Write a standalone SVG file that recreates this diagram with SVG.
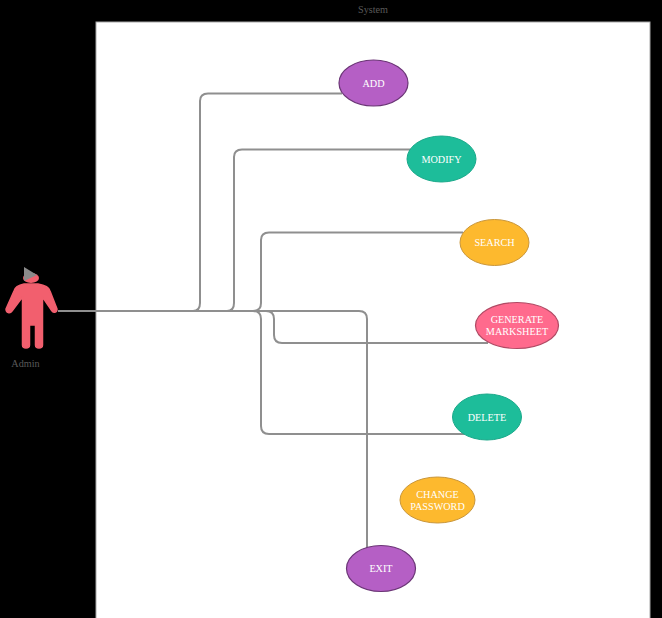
<svg xmlns="http://www.w3.org/2000/svg" width="662" height="618" viewBox="0 0 662 618">
<style>
text{font-family:"Liberation Serif","Times New Roman",serif;font-size:10.2px;text-anchor:middle}
.n text{fill:#fff}
.l{fill:#5a5a5a}
.c{fill:none;stroke:#8f8f8f;stroke-width:2}
</style>
<rect width="662" height="618" fill="#000"/>
<g id="system"><rect x="96" y="22" width="554" height="600" fill="#fff" stroke="#a8a8a8" stroke-width="1"/><text class="l" x="373" y="13">System</text></g>
<g id="connectors">
<path class="c" d="M58 311H193Q200 311 200 303V101Q200 93.500 208 93.500H342"/>
<path class="c" d="M58 311H227Q234 311 234 303V157Q234 149.500 242 149.500H411"/>
<path class="c" d="M58 311H253Q261 311 261 303V240Q261 232.500 269 232.500H463"/>
<path class="c" d="M58 311H266Q274 311 274 319V335Q274 343 282 343H488"/>
<path class="c" d="M58 311H253Q261 311 261 319V426Q261 434 269 434H465"/>
<path class="c" d="M58 311H359Q367 311 367 319V549"/>
</g>
<g id="admin">
<ellipse cx="31" cy="278" rx="8" ry="5" fill="#f25f6e"/>
<path d="M24 267L37 275L24 281Z" fill="#8a8a8a"/>
<path d="M24 284H38C44 285 49 287 50 291L57 309C57 313 53 313 52 311L42.500 297V345C42.500 349 35.500 349 35.500 345V325H29.500V345C29.500 349 22.500 349 22.500 345V297L12 311C10 314 6 313 6 309L14 291C15 287 19 285 24 284Z" fill="#f25f6e" stroke="#f25f6e" stroke-width="1.500" stroke-linejoin="round"/>
<text class="l" x="25.500" y="367">Admin</text>
</g>
<g id="add" class="n"><ellipse cx="373.500" cy="83" rx="34.500" ry="23" fill="#b55fc5" stroke="#6b3576" stroke-width="1.200"/><text x="373.500" y="87">ADD</text></g>
<g id="modify" class="n"><ellipse cx="441.500" cy="159" rx="34.500" ry="23" fill="#1dbd9a" stroke="#1aa98a" stroke-width="1"/><text x="441.500" y="163">MODIFY</text></g>
<g id="search" class="n"><ellipse cx="494.500" cy="242.500" rx="34.500" ry="23" fill="#fdb92e" stroke="#c9963a" stroke-width="1"/><text x="494.500" y="246">SEARCH</text></g>
<g id="generate" class="n"><ellipse cx="517" cy="325.500" rx="41.500" ry="23" fill="#ff6a8d" stroke="#b04a64" stroke-width="1.200"/><text x="517" y="323">GENERATE</text><text x="517" y="335">MARKSHEET</text></g>
<g id="delete" class="n"><ellipse cx="487" cy="417" rx="34.500" ry="23" fill="#1dbd9a" stroke="#1aa98a" stroke-width="1"/><text x="487" y="421">DELETE</text></g>
<g id="change" class="n"><ellipse cx="437.500" cy="500" rx="37.500" ry="23" fill="#fdb92e" stroke="#c9963a" stroke-width="1"/><text x="437.500" y="498">CHANGE</text><text x="437.500" y="510">PASSWORD</text></g>
<g id="exit" class="n"><ellipse cx="381" cy="568.500" rx="34.500" ry="23" fill="#b55fc5" stroke="#6b3576" stroke-width="1.200"/><text x="381" y="572">EXIT</text></g>
</svg>
